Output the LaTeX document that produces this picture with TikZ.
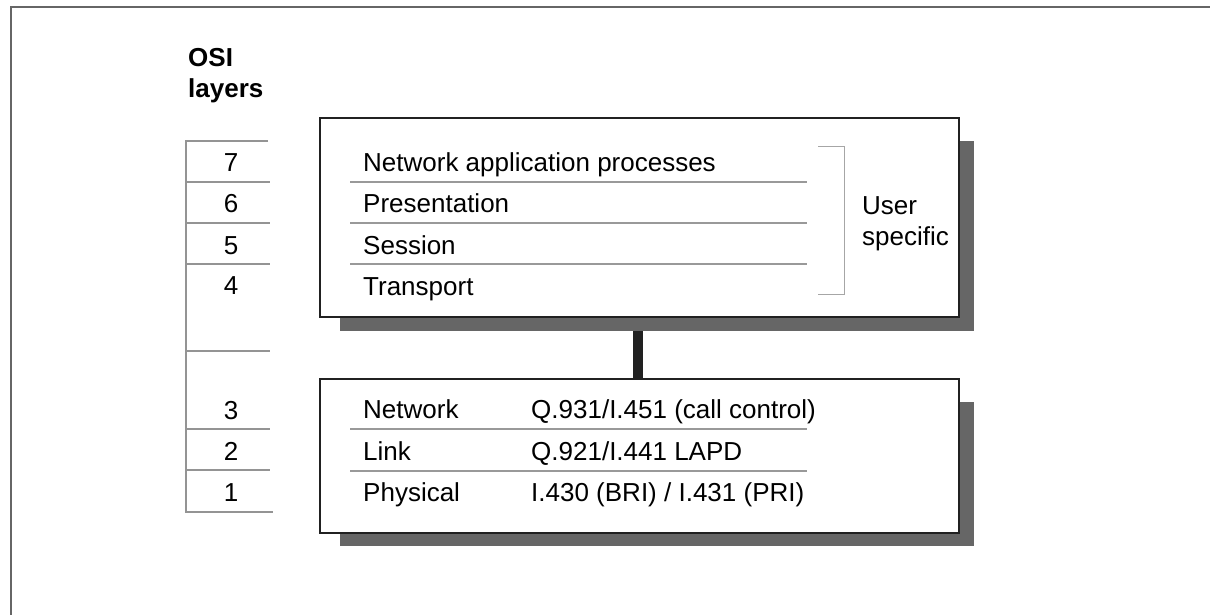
\documentclass[tikz,border=0pt]{standalone}
\usepackage{fontspec}
\setmainfont{Liberation Sans}
\begin{document}
\begin{tikzpicture}[x=1pt,y=-1pt,
  txt/.style={inner sep=0pt, anchor=west, text height=18.6pt, text depth=0pt, font=\fontsize{26}{31}\selectfont},
  num/.style={txt, anchor=center},
  layerbox/.style={draw=black!87, line width=2pt, fill=white, inner sep=0pt},
  shade/.style={fill=black!60, draw=none},
  sep/.style={draw=black!40, line width=2pt},
  scale line/.style={draw=black!42, line width=2.5pt},
  brace line/.style={draw=black!35, line width=0.9pt},
  frame line/.style={draw=black!60, line width=2pt},
  link/.style={draw=black!87, line width=10pt}]
\useasboundingbox (0,0) rectangle (1210,615);

% outer frame (left and top edges)
\draw[frame line] (11,615) -- (11,7) -- (1210,7);

% heading
\node[txt, font=\fontsize{26}{31}\selectfont\bfseries, align=left] (osi) at (188,57.5) {OSI};
\node[txt, font=\fontsize{26}{31}\selectfont\bfseries] (layers) at (188,88.5) {layers};

% box geometry
\node[minimum width=639pt, minimum height=199pt, inner sep=0pt] (upper) at (639.5,217.5) {};
\node[minimum width=639pt, minimum height=154pt, inner sep=0pt] (lower) at (639.5,456) {};

% connector between the two boxes
\draw[link] (upper.south -| 638,0) -- (lower.north -| 638,0);

% shadows
\fill[shade] (340,141) rectangle (974,331);
\fill[shade] (340,402) rectangle (974,546);

% boxes
\draw[layerbox] (upper.north west) rectangle (upper.south east);
\draw[layerbox] (lower.north west) rectangle (lower.south east);

% upper layers
\node[txt] (app) at (363,162) {Network application processes};
\node[txt] (pres) at (363,203.5) {Presentation};
\node[txt] (sess) at (363,245) {Session};
\node[txt] (trans) at (363,286) {Transport};
\draw[sep] (350,182) -- (807,182);
\draw[sep] (350,223) -- (807,223);
\draw[sep] (350,264) -- (807,264);

% bracket and its label
\draw[brace line] (818,146) -- (844,146) -- (844,294) -- (818,294);
\node[txt] (user) at (862,205) {User};
\node[txt] (spec) at (862,236) {specific};

% lower layers
\node[txt] (net) at (363,409.5) {Network};
\node[txt] (link) at (363,451) {Link};
\node[txt] (phys) at (363,492) {Physical};
\node[txt] (netp) at (531,409.5) {Q.931/I.451 (call control)};
\node[txt] (linkp) at (531,451) {Q.921/I.441 LAPD};
\node[txt] (physp) at (531,492) {I.430 (BRI) / I.431 (PRI)};
\draw[sep] (350,429) -- (807,429);
\draw[sep] (350,471) -- (807,471);

% OSI layer scale
\draw[scale line] (268,141) -- (186,141) -- (186,512) -- (273,512);
\foreach \yy in {182,223,264,351,429,470}
  \draw[scale line] (186,\yy) -- (270,\yy);
\node[num] (l7) at (231,162) {7};
\node[num] (l6) at (231,203.5) {6};
\node[num] (l5) at (231,245) {5};
\node[num] (l4) at (231,285.5) {4};
\node[num] (l3) at (231,410) {3};
\node[num] (l2) at (231,451) {2};
\node[num] (l1) at (231,492) {1};
\end{tikzpicture}
\end{document}
